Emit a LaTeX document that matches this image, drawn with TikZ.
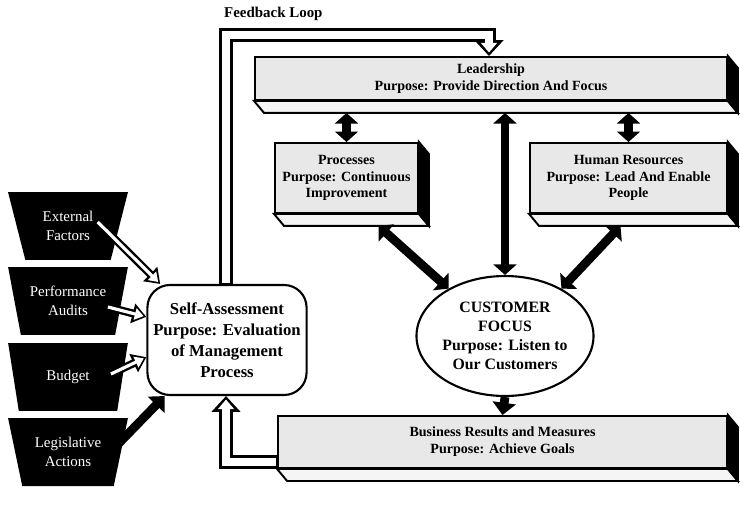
\documentclass[tikz,border=0pt]{standalone}
\usepackage{fontspec}
\setmainfont{Liberation Serif}
\usetikzlibrary{calc,arrows.meta,shapes.geometric}

\begin{document}
\begin{tikzpicture}[x=0.02cm,y=-0.02cm,
    slab/.style={draw,line width=1.1pt,fill=black!9,inner sep=0pt,align=center,
      font=\fontsize{8}{9.6}\selectfont\bfseries},
    darkbox/.style={trapezium,trapezium stretches=true,shape border rotate=180,
      trapezium left angle=71,trapezium right angle=71,fill=black,text=white,
      inner sep=0pt,minimum width=2.4cm,minimum height=1.36cm,align=center,
      font=\fontsize{8.5}{11}\selectfont},
    duo/.style={line width=5pt,{Triangle[length=6pt,width=13pt]}-{Triangle[length=6pt,width=13pt]}},
    mono/.style={line width=5pt,-{Triangle[length=7pt,width=13pt]}},
    pipe/.style={line width=8pt,line join=miter,-{Triangle[length=9pt,width=16pt]}},
    pipein/.style={white,line width=4.5pt,line join=miter,-{Triangle[length=5.5pt,width=9pt]},
      shorten >=2pt,shorten <=0.6pt},
    hollow/.style={line width=4.5pt,-{Triangle[length=8pt,width=11pt]}},
    hollowin/.style={white,line width=1.8pt,-{Triangle[length=5pt,width=6.5pt]},shorten >=1.6pt}]
  \useasboundingbox (0,0) rectangle (740,524);

  % boxes
  \node[slab,minimum width=9.44cm,minimum height=0.86cm] (lead) at (491,78.5)
    {Leadership\\Purpose: Provide Direction And Focus};
  \node[slab,minimum width=2.86cm,minimum height=1.4cm] (proc) at (346.5,178)
    {Processes\\Purpose: Continuous\\Improvement};
  \node[slab,minimum width=3.94cm,minimum height=1.4cm] (hr) at (628.5,178)
    {Human Resources\\Purpose: Lead And Enable\\People};
  \node[slab,minimum width=8.98cm,minimum height=1.04cm] (busi) at (502.5,442)
    {Business Results and Measures\\Purpose: Achieve Goals};
  \foreach \b in {lead,proc,hr,busi}{
    \filldraw[fill=black!4,line width=1.1pt] (\b.south west) -- (\b.south east) -- ++(10,12)
      -- ($(\b.south west)+(10,12)$) -- cycle;
    \filldraw[line width=1.1pt] (\b.north east) -- ++(10,12) -- ($(\b.south east)+(10,12)$)
      -- (\b.south east) -- cycle;
  }
  \node[draw,line width=1.2pt,fill=white,rounded corners=0.45cm,minimum width=3.16cm,
    minimum height=2.2cm,align=center,font=\fontsize{9.5}{12}\selectfont\bfseries]
    (self) at (227,340) {Self-Assessment\\Purpose: Evaluation\\of Management\\Process};
  \node[ellipse,draw,line width=1.2pt,fill=white,minimum width=2.48cm,minimum height=2.4cm,
    inner sep=0pt,align=center,font=\fontsize{9}{10.8}\selectfont\bfseries]
    (cust) at (505,336) {CUSTOMER\\FOCUS\\Purpose: Listen to\\Our Customers};

  % outside inputs
  \node[darkbox] (ext) at (68,226) {External\\Factors};
  \node[darkbox] (perf) at (68,301) {Performance\\Audits};
  \node[darkbox] (budg) at (68,377) {Budget};
  \node[darkbox] (legi) at (68,452) {Legislative\\Actions};

  \node[anchor=west,font=\fontsize{8.5}{10}\selectfont\bfseries] (fbtext) at (218,14) {Feedback Loop};

  % feedback loop
  \coordinate (fbl) at (226,35);
  \coordinate (fbr) at (489,35);
  \coordinate (fbb) at (226,462);
  \draw[pipe] (self.north -| fbl) -- (fbl) -- (fbr) -- (fbr |- lead.north);
  \draw[pipein] (self.north -| fbl) -- (fbl) -- (fbr) -- (fbr |- lead.north);
  \draw[pipe] (busi.west |- fbb) -- (fbb) -- (self.south -| fbb);
  \draw[pipein] (busi.west |- fbb) -- (fbb) -- (self.south -| fbb);

  % inputs to self-assessment
  \draw[hollow] ($(ext.east)+(-22,-4)$) -- (self.140);
  \draw[hollowin] ($(ext.east)+(-22,-4)$) -- (self.140);
  \draw[hollow] ($(perf.east)+(-14,6)$) -- (self.164);
  \draw[hollowin] ($(perf.east)+(-14,6)$) -- (self.164);
  \draw[hollow] ($(budg.east)+(-12,-3)$) -- (self.192);
  \draw[hollowin] ($(budg.east)+(-12,-3)$) -- (self.192);
  \draw[mono] ($(legi.east)+(-5,-6)$) -- (self.222);

  % links between the boxes
  \draw[duo] ($(proc.north |- lead.south)+(0,12)$) -- (proc.north);
  \draw[duo] ($(hr.north |- lead.south)+(0,12)$) -- (hr.north);
  \draw[duo] ($(cust.north |- lead.south)+(0,12)$) -- (cust.north);
  \draw[duo] (cust.140) -- ($(proc.south)+(32,12)$);
  \draw[duo] (cust.40) -- ($(hr.south)+(-8,12)$);
  \draw[mono] (cust.south) -- (busi.north);
\end{tikzpicture}
\end{document}
